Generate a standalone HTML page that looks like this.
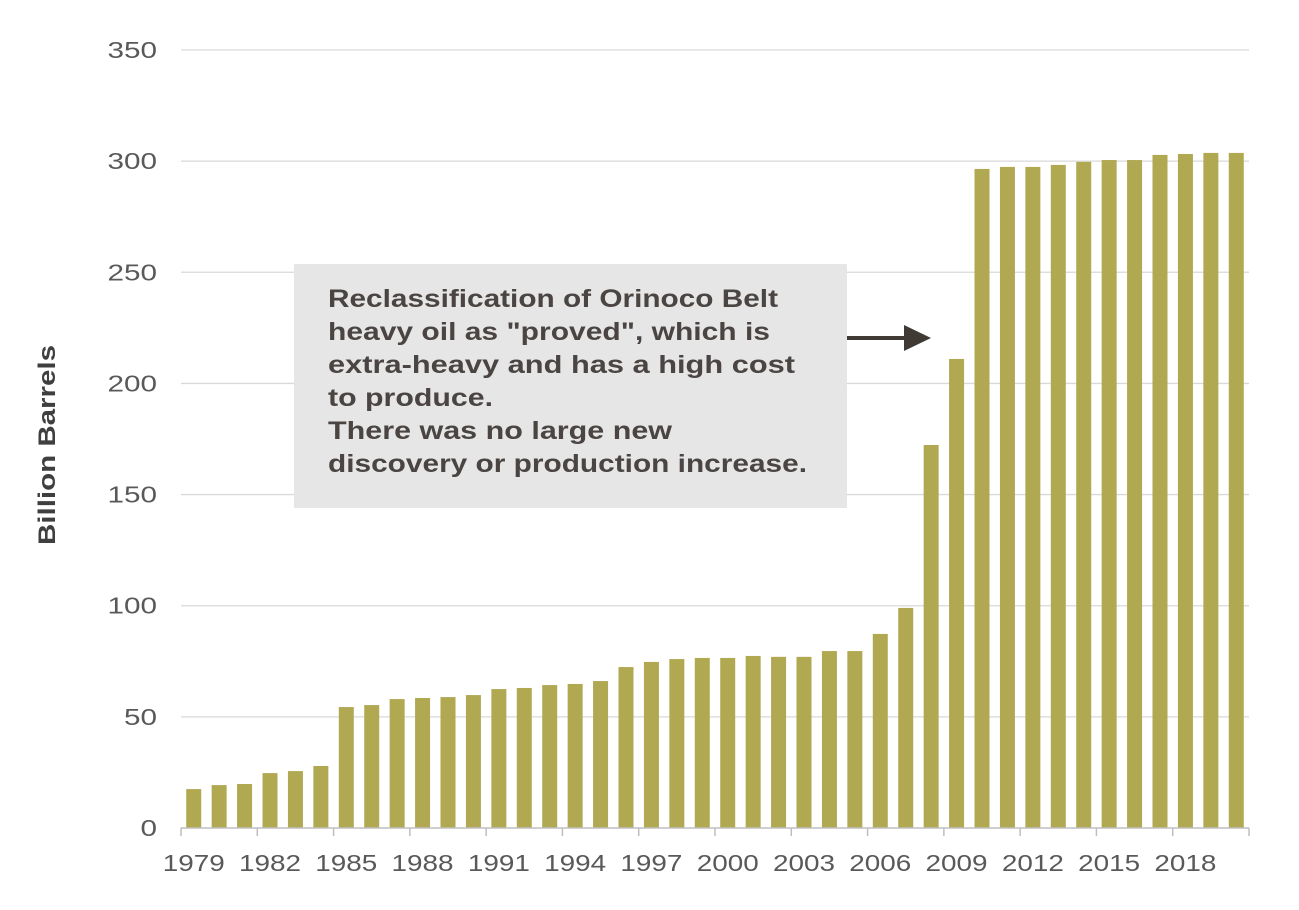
<!DOCTYPE html>
<html><head><meta charset="utf-8"><style>
html,body{margin:0;padding:0;background:#fff;}
svg{display:block;font-family:"Liberation Sans",sans-serif;}
</style></head><body>
<svg id="chart" width="1299" height="910" viewBox="0 0 1299 910">
<g id="grid"></g><g id="bars"></g><g id="axes"></g>
<text transform="translate(55,445) rotate(-90)" text-anchor="middle" font-size="24" font-weight="bold" fill="#3f3f3f" textLength="200" lengthAdjust="spacingAndGlyphs">Billion Barrels</text>
<rect x="294" y="264" width="553" height="244" fill="#e6e6e6"/>
<g font-size="25" font-weight="bold" fill="#4a4542">
<text x="328" y="307" textLength="450" lengthAdjust="spacingAndGlyphs">Reclassification of Orinoco Belt</text>
<text x="328" y="340" textLength="442" lengthAdjust="spacingAndGlyphs">heavy oil as "proved", which is</text>
<text x="328" y="373" textLength="467" lengthAdjust="spacingAndGlyphs">extra-heavy and has  a high cost</text>
<text x="328" y="406" textLength="165" lengthAdjust="spacingAndGlyphs">to produce.</text>
<text x="328" y="439" textLength="344" lengthAdjust="spacingAndGlyphs">There was no large new</text>
<text x="328" y="472" textLength="479" lengthAdjust="spacingAndGlyphs">discovery or production increase.</text>
</g>
<g>
<line x1="847" y1="338" x2="908" y2="338" stroke="#403a35" stroke-width="4"/>
<polygon points="904,325 931,338 904,351" fill="#403a35"/>
</g>
</svg>
<script>
const years=[1979,1980,1981,1982,1983,1984,1985,1986,1987,1988,1989,1990,1991,1992,1993,1994,1995,1996,1997,1998,1999,2000,2001,2002,2003,2004,2005,2006,2007,2008,2009,2010,2011,2012,2013,2014,2015,2016,2017,2018,2019,2020];
const reserves=[17.5,19.3,19.8,24.7,25.6,27.9,54.4,55.3,58,58.5,58.9,59.8,62.5,63,64.3,64.8,66.1,72.4,74.7,76,76.5,76.5,77.4,77,77,79.6,79.6,87.3,99,172.3,211,296.5,297.4,297.4,298.3,299.7,300.5,300.5,302.8,303.2,303.7,303.7];
const yTicks=[0,50,100,150,200,250,300,350];
const xLabelYears=[1979,1982,1985,1988,1991,1994,1997,2000,2003,2006,2009,2012,2015,2018];
const NS="http://www.w3.org/2000/svg";
const x0=181,x1=1249,y0=828,yTop=50,yMax=350;
const step=(x1-x0)/years.length;
function yS(v){return y0-(v/yMax)*(y0-yTop);}
function xS(i){return x0+step*i+step/2;}
function mk(t,a,p){const e=document.createElementNS(NS,t);for(const k in a)e.setAttribute(k,a[k]);p.appendChild(e);return e;}
const grid=document.getElementById('grid'),bars=document.getElementById('bars'),axes=document.getElementById('axes');
yTicks.forEach(v=>{
  if(v>0){const l=mk('line',{x1:x0,x2:x1,y1:yS(v),y2:yS(v),stroke:'#d9d9d9','stroke-width':1.3},grid);
  
  }
  const s=String(v);
  const t=mk('text',{x:157,y:yS(v)+8,'text-anchor':'end','font-size':23,fill:'#595959',textLength:s.length*16.5,lengthAdjust:'spacingAndGlyphs'},axes);
  t.textContent=s;
  
  
});
reserves.forEach((v,i)=>{
  const r=mk('rect',{x:xS(i)-7.5,y:yS(v),width:15,height:y0-yS(v),fill:'#b1a852'},bars);
  
  
});
const ax=mk('line',{x1:x0,x2:x1,y1:y0,y2:y0,stroke:'#bfbfbf','stroke-width':1.5},axes);


xLabelYears.forEach(yr=>{
  const i=years.indexOf(yr);
  const tx=x0+step*i;
  const tk=mk('line',{x1:tx,x2:tx,y1:y0,y2:y0+8,stroke:'#bfbfbf','stroke-width':1.5},axes);
  
  
  const t=mk('text',{x:xS(i),y:871,'text-anchor':'middle','font-size':23,fill:'#595959',textLength:62,lengthAdjust:'spacingAndGlyphs'},axes);
  t.textContent=yr;
  
  
});
const tEnd=mk('line',{x1:x1,x2:x1,y1:y0,y2:y0+8,stroke:'#bfbfbf','stroke-width':1.5},axes);


</script>
</body></html>
